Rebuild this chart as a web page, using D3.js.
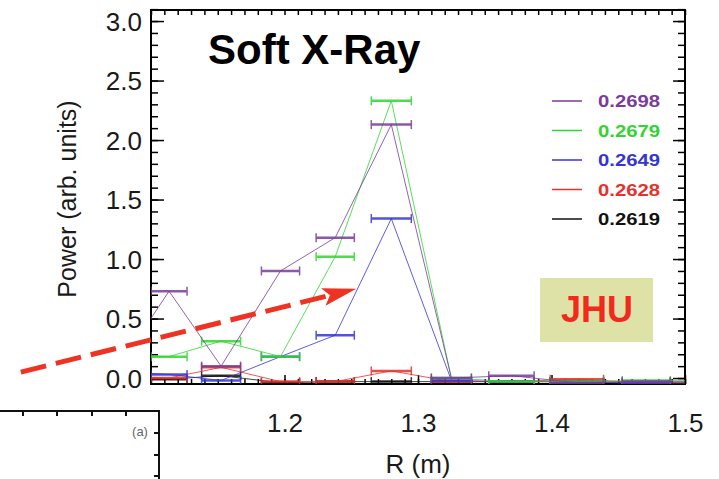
<!DOCTYPE html>
<html>
<head>
<meta charset="utf-8">
<script src="https://cdn.jsdelivr.net/npm/d3@7"></script>
<style>
  body { margin: 0; background: #fff; }
  svg { display: block; font-family: "Liberation Sans", Arial, Helvetica, sans-serif; }
</style>
</head>
<body>
<svg width="719" height="479"></svg>
<script>
// bin centres (R in m) and half widths of the horizontal error bars
// first and last entries sit just outside the frame, the lines run off the edges
var radius    = [1.078, 1.1135, 1.1525, 1.197, 1.238, 1.280, 1.325, 1.370, 1.419, 1.471, 1.525];
var halfWidth = [0.013, 0.0135, 0.0146, 0.0143, 0.0143, 0.015, 0.015, 0.017, 0.020, 0.018, 0.02];

var seriesNames  = ["0.2698", "0.2679", "0.2649", "0.2628", "0.2619"];
var seriesColors = ["#7b3a9c", "#2fd62f", "#3434d8", "#e8302a", "#111111"];

var p2698 = [0.13, 0.73, 0.10, 0.90, 1.18, 2.13, 0.00, 0.02, -0.04, -0.03, -0.03];
var p2679 = [0.19, 0.18, 0.31, 0.18, 1.02, 2.33, 0.00, -0.03, -0.03, -0.02, -0.02];
var p2649 = [0.05, 0.03, -0.02, 0.18, 0.36, 1.34, -0.02, -0.03, -0.03, -0.05, -0.05];
var p2628 = [0.00, 0.00, 0.09, -0.03, -0.03, 0.06, -0.03, -0.03, -0.01, -0.04, -0.04];
var p2619 = [0.00, -0.01, 0.02, -0.04, -0.03, -0.03, -0.03, -0.03, -0.03, -0.04, -0.04];
var seriesValues = [p2698, p2679, p2649, p2628, p2619];

var xTicks = [1.2, 1.3, 1.4, 1.5];
var yTicks = [0, 0.5, 1.0, 1.5, 2.0, 2.5, 3.0];

var svg = d3.select("svg");
var pl = 151, pr = 685, pt = 10, pb = 384;

var x = d3.scaleLinear().domain([1.1, 1.5]).range([pl, pr]);
var y = d3.scaleLinear().domain([-0.05, 3.1]).range([pb, pb - 3.15 * 119]);

svg.append("defs").append("clipPath").attr("id", "plot")
  .append("rect").attr("x", pl).attr("y", pt).attr("width", pr - pl).attr("height", pb - pt);

// ---- axes (ticks point inward) ----
var minorX = d3.range(1.10, 1.5001, 0.01);
var minorY = d3.range(0, 3.11, 0.1);

function noDomain(g) { g.select(".domain").remove(); g.selectAll("line").attr("stroke", "#000").attr("stroke-width", 1.5); }

svg.append("g").attr("transform", "translate(0," + pb + ")")
  .call(d3.axisBottom(x).tickValues(minorX).tickSize(-5).tickFormat("")).call(noDomain);
svg.append("g").attr("transform", "translate(0," + pb + ")")
  .call(d3.axisBottom(x).tickValues(xTicks).tickSize(-9).tickPadding(30).tickFormat(d3.format(".1f")))
  .call(noDomain)
  .selectAll("text").attr("font-size", 26).attr("fill", "#1a1a1a");
svg.append("g").attr("transform", "translate(0," + pt + ")")
  .call(d3.axisTop(x).tickValues(minorX).tickSize(-5).tickFormat("")).call(noDomain);

svg.append("g").attr("transform", "translate(" + pl + ",0)")
  .call(d3.axisLeft(y).tickValues(minorY).tickSize(-7).tickFormat("")).call(noDomain);
svg.append("g").attr("transform", "translate(" + pl + ",0)")
  .call(d3.axisLeft(y).tickValues(yTicks).tickSize(-13).tickPadding(9).tickFormat(d3.format(".1f")))
  .call(noDomain)
  .selectAll("text").attr("font-size", 26).attr("fill", "#1a1a1a").attr("dy", "0.36em");
svg.append("g").attr("transform", "translate(" + pr + ",0)")
  .call(d3.axisRight(y).tickValues(minorY).tickSize(-7).tickFormat("")).call(noDomain);
svg.append("g").attr("transform", "translate(" + pr + ",0)")
  .call(d3.axisRight(y).tickValues(yTicks).tickSize(-12).tickFormat("")).call(noDomain);

svg.append("rect").attr("x", pl).attr("y", pt).attr("width", pr - pl).attr("height", pb - pt)
  .attr("fill", "none").attr("stroke", "#000").attr("stroke-width", 2);

// ---- data ----
var plot = svg.append("g").attr("clip-path", "url(#plot)");
var line = d3.line().x(function(d, i) { return x(radius[i]); }).y(function(d) { return y(d); });

seriesValues.slice().reverse().forEach(function(vals, k) {
  var i = seriesValues.length - 1 - k;
  var c = seriesColors[i];
  plot.append("path").datum(vals).attr("d", line)
    .attr("fill", "none").attr("stroke", c).attr("stroke-width", 1).attr("opacity", 0.8);
  var bars = plot.append("g").attr("stroke", c).attr("opacity", 0.85);
  bars.selectAll("line.bar").data(vals).enter().append("line").attr("class", "bar")
    .attr("x1", function(d, j) { return x(radius[j] - halfWidth[j]); })
    .attr("x2", function(d, j) { return x(radius[j] + halfWidth[j]); })
    .attr("y1", function(d) { return y(d); }).attr("y2", function(d) { return y(d); })
    .attr("stroke-width", 2.5);
  [-1, 1].forEach(function(s) {
    bars.selectAll(s < 0 ? "line.capl" : "line.capr").data(vals).enter().append("line")
      .attr("class", s < 0 ? "capl" : "capr")
      .attr("x1", function(d, j) { return x(radius[j] + s * halfWidth[j]); })
      .attr("x2", function(d, j) { return x(radius[j] + s * halfWidth[j]); })
      .attr("y1", function(d) { return y(d) - 4.5; }).attr("y2", function(d) { return y(d) + 4.5; })
      .attr("stroke-width", 1.5);
  });
});

// ---- legend ----
var legend = svg.append("g");
seriesNames.forEach(function(name, i) {
  var ly = 101 + i * 29.5;
  legend.append("line").attr("x1", 552).attr("x2", 582).attr("y1", ly).attr("y2", ly)
    .attr("stroke", seriesColors[i]).attr("stroke-width", 1.5);
  legend.append("text").attr("x", 598).attr("y", ly).attr("dy", "0.36em")
    .attr("font-size", 17).attr("font-weight", "bold").attr("fill", seriesColors[i])
    .attr("textLength", 62).attr("lengthAdjust", "spacingAndGlyphs").text(name);
});

// ---- labels ----
svg.append("text").attr("x", 208).attr("y", 64).attr("font-size", 42).attr("font-weight", "bold")
  .attr("fill", "#000").text("Soft X-Ray");
svg.append("text").attr("transform", "translate(76,199) rotate(-90)").attr("text-anchor", "middle")
  .attr("font-size", 25).attr("fill", "#1a1a1a").text("Power (arb. units)");
svg.append("text").attr("x", 418).attr("y", 473).attr("text-anchor", "middle")
  .attr("font-size", 26).attr("fill", "#1a1a1a").text("R (m)");

// JHU badge
svg.append("rect").attr("x", 540).attr("y", 278).attr("width", 113).attr("height", 64).attr("fill", "#dfe2a7");
svg.append("text").attr("x", 597).attr("y", 322).attr("text-anchor", "middle")
  .attr("font-size", 36).attr("font-weight", "bold").attr("fill", "#f02a1c").text("JHU");

// red dashed arrow (in data coordinates)
var arrowFrom = [1.0025, 0.05], arrowTo = [1.2538, 0.75];
var x0 = x(arrowFrom[0]), y0 = y(arrowFrom[1]), x1 = x(arrowTo[0]), y1 = y(arrowTo[1]);
var len = Math.hypot(x1 - x0, y1 - y0), ux = (x1 - x0) / len, uy = (y1 - y0) / len;
var headL = 34, headW = 9;
svg.append("line").attr("x1", x0).attr("y1", y0)
  .attr("x2", x1 - ux * (headL - 4)).attr("y2", y1 - uy * (headL - 4))
  .attr("stroke", "#ee3322").attr("stroke-width", 5).attr("stroke-dasharray", "26,10");
svg.append("polygon")
  .attr("points", [[x1, y1],
    [x1 - ux * headL - uy * headW, y1 - uy * headL + ux * headW],
    [x1 - ux * headL * 0.8, y1 - uy * headL * 0.8],
    [x1 - ux * headL + uy * headW, y1 - uy * headL - ux * headW]].map(function(p) { return p.join(","); }).join(" "))
  .attr("fill", "#ee3322");

// corner of neighbouring panel (a)
var inset = svg.append("g").attr("stroke", "#111").attr("stroke-width", 2);
inset.append("line").attr("x1", 0).attr("x2", 160).attr("y1", 411).attr("y2", 411);
inset.append("line").attr("x1", 159).attr("x2", 159).attr("y1", 410).attr("y2", 479);
[23, 57, 92, 126].forEach(function(t) {
  inset.append("line").attr("x1", t).attr("x2", t).attr("y1", 411).attr("y2", 416);
});
[433, 455, 476].forEach(function(t) {
  inset.append("line").attr("x1", 154).attr("x2", 159).attr("y1", t).attr("y2", t);
});
svg.append("text").attr("x", 140).attr("y", 436).attr("text-anchor", "middle")
  .attr("font-size", 13).attr("fill", "#666").text("(a)");
</script>
</body>
</html>
